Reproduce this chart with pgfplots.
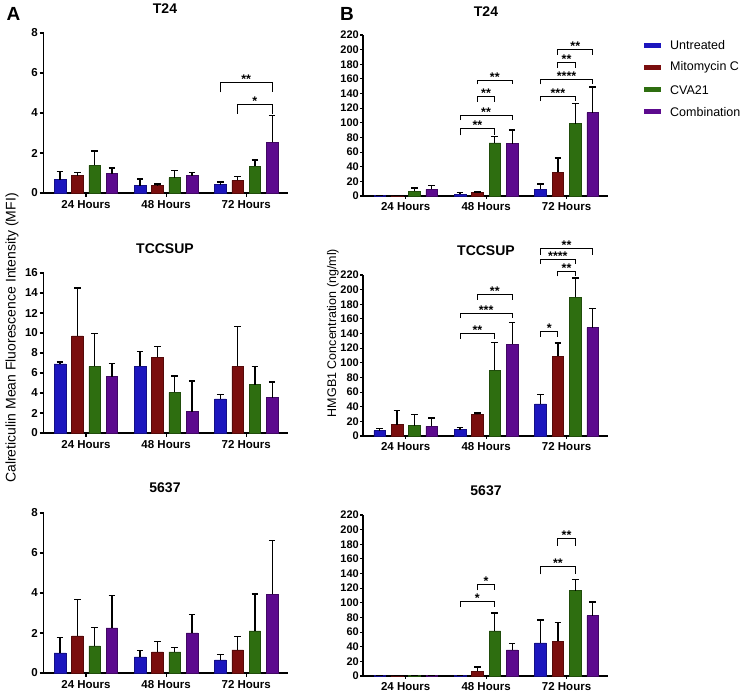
\documentclass[border=0pt]{standalone}
\usepackage{fontspec}
\setmainfont{Liberation Sans}
\usepackage{pgfplots}
\pgfplotsset{compat=1.18}
\usetikzlibrary{calc}

\definecolor{cb}{RGB}{28,22,190}
\definecolor{cr}{RGB}{122,14,14}
\definecolor{cg}{RGB}{46,110,16}
\definecolor{cp}{RGB}{92,10,142}

\pgfplotsset{
 panel/.style={
  scale only axis, width=244pt, height=160pt,
  xmin=-0.53, xmax=2.515, ymin=0,
  axis x line=bottom, axis y line=left,
  axis line style={line width=1.3pt},
  x axis line style={-}, y axis line style={-},
  tick align=outside, major tick length=4pt,
  tick style={line width=1.1pt, black},
  xtick={0,1,2}, xticklabels={24 Hours,48 Hours,72 Hours},
  ticklabel style={font=\fontsize{11.5}{12}\selectfont\bfseries},
  yticklabel style={inner sep=1.5pt},
  /pgf/number format/assume math mode=true,
  clip=false,
 },
 rpanel/.style={panel, width=245pt, height=161pt, ymax=220, ytick={0,20,...,220}, major tick length=3pt,
  yticklabel style={inner sep=1pt, font=\fontsize{11}{12}\selectfont\bfseries}},
 bars/.style={ybar, bar width=0.144, bar shift=0pt, fill=#1, draw=#1!70!black, line width=0.5pt,
   error bars/.cd, y dir=plus, y explicit,
   error bar style={line width=1.3pt, black},
   error mark options={rotate=90, mark size=3.3pt, line width=1.3pt, black}},
}

\newcommand{\sig}[5]{%
 \draw[line width=1pt] (axis cs:#1,#4) -- (axis cs:#1,#3) -- (axis cs:#2,#3) -- (axis cs:#2,#4);
 \node[anchor=south, inner sep=0pt, yshift=-1.2pt, font=\fontsize{12.5}{12}\selectfont\bfseries] at ($(axis cs:#1,#3)!0.5!(axis cs:#2,#3)$) {#5};}

\begin{document}
\begin{tikzpicture}[x=1pt,y=1pt]
\path[use as bounding box] (0,0) rectangle (744,695);

% ---------- Left T24
\begin{axis}[panel, at={(43.5pt,502pt)}, anchor=south west, ymax=8, ytick={0,2,4,6,8}]
\addplot[bars=cb] coordinates {(-0.324,0.67) +- (0,0.41) (0.676,0.37) +- (0,0.33) (1.676,0.42) +- (0,0.13)};
\addplot[bars=cr] coordinates {(-0.108,0.87) +- (0,0.16) (0.892,0.37) +- (0,0.08) (1.892,0.63) +- (0,0.20)};
\addplot[bars=cg] coordinates {(0.108,1.38) +- (0,0.72) (1.108,0.77) +- (0,0.36) (2.108,1.33) +- (0,0.32)};
\addplot[bars=cp] coordinates {(0.324,0.97) +- (0,0.28) (1.324,0.87) +- (0,0.16) (2.324,2.53) +- (0,1.34)};
\sig{1.676}{2.324}{5.5}{5.03}{**}
\sig{1.892}{2.324}{4.42}{3.97}{*}
\end{axis}

% ---------- Left TCCSUP
\begin{axis}[panel, at={(43.5pt,262pt)}, anchor=south west, ymax=16, ytick={0,2,...,16}]
\addplot[bars=cb] coordinates {(-0.324,6.90) +- (0,0.20) (0.676,6.67) +- (0,1.46) (1.676,3.40) +- (0,0.43)};
\addplot[bars=cr] coordinates {(-0.108,9.70) +- (0,4.80) (0.892,7.57) +- (0,1.10) (1.892,6.67) +- (0,4.00)};
\addplot[bars=cg] coordinates {(0.108,6.67) +- (0,3.26) (1.108,4.07) +- (0,1.63) (2.108,4.83) +- (0,1.84)};
\addplot[bars=cp] coordinates {(0.324,5.63) +- (0,1.30) (1.324,2.13) +- (0,3.07) (2.324,3.53) +- (0,1.57)};
\end{axis}

% ---------- Left 5637
\begin{axis}[panel, at={(43.5pt,22pt)}, anchor=south west, ymax=8, ytick={0,2,4,6,8}]
\addplot[bars=cb] coordinates {(-0.324,1.00) +- (0,0.76) (0.676,0.80) +- (0,0.32) (1.676,0.66) +- (0,0.27)};
\addplot[bars=cr] coordinates {(-0.108,1.86) +- (0,1.82) (0.892,1.06) +- (0,0.52) (1.892,1.16) +- (0,0.67)};
\addplot[bars=cg] coordinates {(0.108,1.35) +- (0,0.93) (1.108,1.06) +- (0,0.20) (2.108,2.10) +- (0,1.85)};
\addplot[bars=cp] coordinates {(0.324,2.26) +- (0,1.62) (1.324,2.00) +- (0,0.93) (2.324,3.93) +- (0,2.69)};
\end{axis}

% ---------- Right T24
\begin{axis}[rpanel, at={(363pt,499pt)}, anchor=south west]
\addplot[bars=cb] coordinates {(-0.324,0.5) +- (0,0) (0.676,2.3) +- (0,2.3) (1.676,9.1) +- (0,7.3)};
\addplot[bars=cr] coordinates {(-0.108,0.3) +- (0,0) (0.892,4.6) +- (0,0.9) (1.892,32.4) +- (0,19.6)};
\addplot[bars=cg] coordinates {(0.108,6.4) +- (0,4.6) (1.108,72.6) +- (0,9.1) (2.108,99.0) +- (0,27.5)};
\addplot[bars=cp] coordinates {(0.324,9.1) +- (0,4.9) (1.324,71.7) +- (0,18.3) (2.324,114.0) +- (0,35.0)};
\sig{0.676}{1.108}{92}{83}{**}
\sig{0.676}{1.324}{110.5}{103.6}{**}
\sig{0.892}{1.108}{135.6}{128.8}{**}
\sig{0.892}{1.324}{158.4}{152.5}{**}
\sig{1.676}{2.108}{136.5}{129.7}{***}
\sig{1.676}{2.324}{159.4}{152.5}{****}
\sig{1.892}{2.108}{182}{175}{**}
\sig{1.892}{2.324}{200}{192.7}{**}
\end{axis}

% ---------- Right TCCSUP
\begin{axis}[rpanel, at={(363pt,259pt)}, anchor=south west]
\addplot[bars=cb] coordinates {(-0.324,7.3) +- (0,2.7) (0.676,8.7) +- (0,3.2) (1.676,43.8) +- (0,12.8)};
\addplot[bars=cr] coordinates {(-0.108,15.5) +- (0,19.2) (0.892,29.7) +- (0,1.8) (1.892,109.0) +- (0,18.0)};
\addplot[bars=cg] coordinates {(0.108,14.2) +- (0,15.5) (1.108,90.0) +- (0,38.0) (2.108,189.5) +- (0,26.5)};
\addplot[bars=cp] coordinates {(0.324,13.2) +- (0,11.5) (1.324,125.6) +- (0,29.4) (2.324,148.0) +- (0,26.0)};
\sig{0.676}{1.108}{140.5}{133}{**}
\sig{0.676}{1.324}{168}{161}{***}
\sig{0.892}{1.324}{193}{186}{**}
\sig{1.676}{1.892}{142.7}{135.5}{*}
\sig{1.892}{2.108}{225}{218}{**}
\sig{1.676}{2.108}{241.6}{235}{****}
\sig{1.676}{2.324}{256}{248}{**}
\end{axis}

% ---------- Right 5637
\begin{axis}[rpanel, at={(363pt,19pt)}, anchor=south west]
\addplot[bars=cb] coordinates {(-0.324,1.0) +- (0,0) (0.676,1.0) +- (0,0) (1.676,45.4) +- (0,31.2)};
\addplot[bars=cr] coordinates {(-0.108,0.3) +- (0,0) (0.892,6.8) +- (0,5.4) (1.892,47.6) +- (0,25.4)};
\addplot[bars=cg] coordinates {(0.108,1.0) +- (0,0) (1.108,61.7) +- (0,24.3) (2.108,116.6) +- (0,15.4)};
\addplot[bars=cp] coordinates {(0.324,0.5) +- (0,0) (1.324,35.8) +- (0,8.2) (2.324,82.5) +- (0,18.5)};
\sig{0.676}{1.108}{101.6}{94}{*}
\sig{0.892}{1.108}{124.7}{117}{*}
\sig{1.676}{2.108}{149}{139}{**}
\sig{1.892}{2.108}{187.7}{177.8}{**}
\end{axis}

% ---------- titles and labels
\begin{scope}[every node/.style={font=\fontsize{14}{14}\selectfont\bfseries}]
\node at (165,686.5) {T24};
\node at (165,446) {TCCSUP};
\node at (165,207) {5637};
\node at (486,683.5) {T24};
\node at (486,444.5) {TCCSUP};
\node at (486,204) {5637};
\end{scope}
\node[font=\fontsize{19}{19}\selectfont\bfseries] at (13.5,681) {A};
\node[font=\fontsize{19}{19}\selectfont\bfseries] at (347,681) {B};
\node[rotate=90, font=\fontsize{14}{14}\selectfont] at (12,357) {Calreticulin Mean Fluorescence Intensity (MFI)};
\node[rotate=90, font=\fontsize{12.5}{13}\selectfont] at (333,362) {HMGB1 Concentration (ng/ml)};

% ---------- legend
\begin{scope}[every node/.style={font=\fontsize{12.5}{13}\selectfont, anchor=west, inner sep=0pt}]
\fill[cb] (644,647.2) rectangle (660.7,652.2); \node at (670,649.7) {Untreated};
\fill[cr] (644,625.2) rectangle (660.7,630.2); \node at (670,627.7) {Mitomycin C};
\fill[cg] (644,602.5) rectangle (660.7,607.5); \node at (670,605) {CVA21};
\fill[cp] (644,580.8) rectangle (660.7,585.8); \node at (670,583.3) {Combination};
\end{scope}
\end{tikzpicture}
\end{document}
